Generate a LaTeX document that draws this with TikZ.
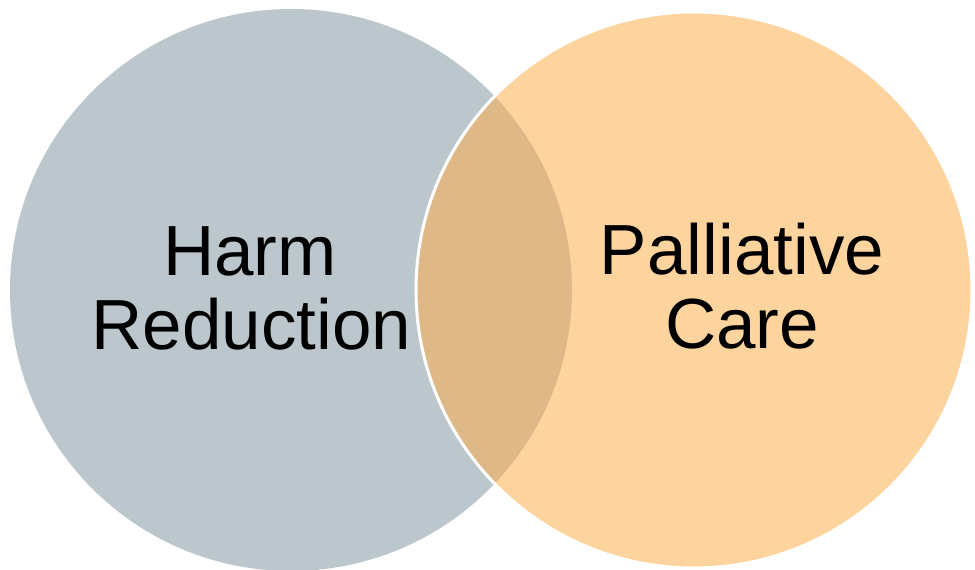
\documentclass[tikz,border=0pt]{standalone}
\usepackage{fontspec}
\setmainfont{Liberation Sans}
\definecolor{hrgray}{RGB}{188,199,205}
\definecolor{pcorange}{RGB}{253,212,158}
\definecolor{overlap}{RGB}{222,185,135}
\begin{document}
\begin{tikzpicture}[x=1pt,y=1pt,
  lbl/.style={anchor=base,inner sep=0pt,font=\fontsize{71}{74}\selectfont,text=black}]
\useasboundingbox (0,0) rectangle (975,570);
% circles
\fill[hrgray] (291,280) circle[radius=281];
\fill[pcorange] (694,280) circle[radius=278];
\begin{scope}
  \clip (291,280) circle[radius=281];
  \fill[overlap] (694,280) circle[radius=278];
\end{scope}
\draw[white,line width=3pt] (694,280) circle[radius=278];
% labels
\node[lbl] (harm) at (250,294) {Harm};
\node[lbl] (reduction) at (251.5,220) {Reduction};
\node[lbl] (palliative) at (742,295) {Palliative};
\node[lbl] (care) at (742,221) {Care};
\end{tikzpicture}
\end{document}
